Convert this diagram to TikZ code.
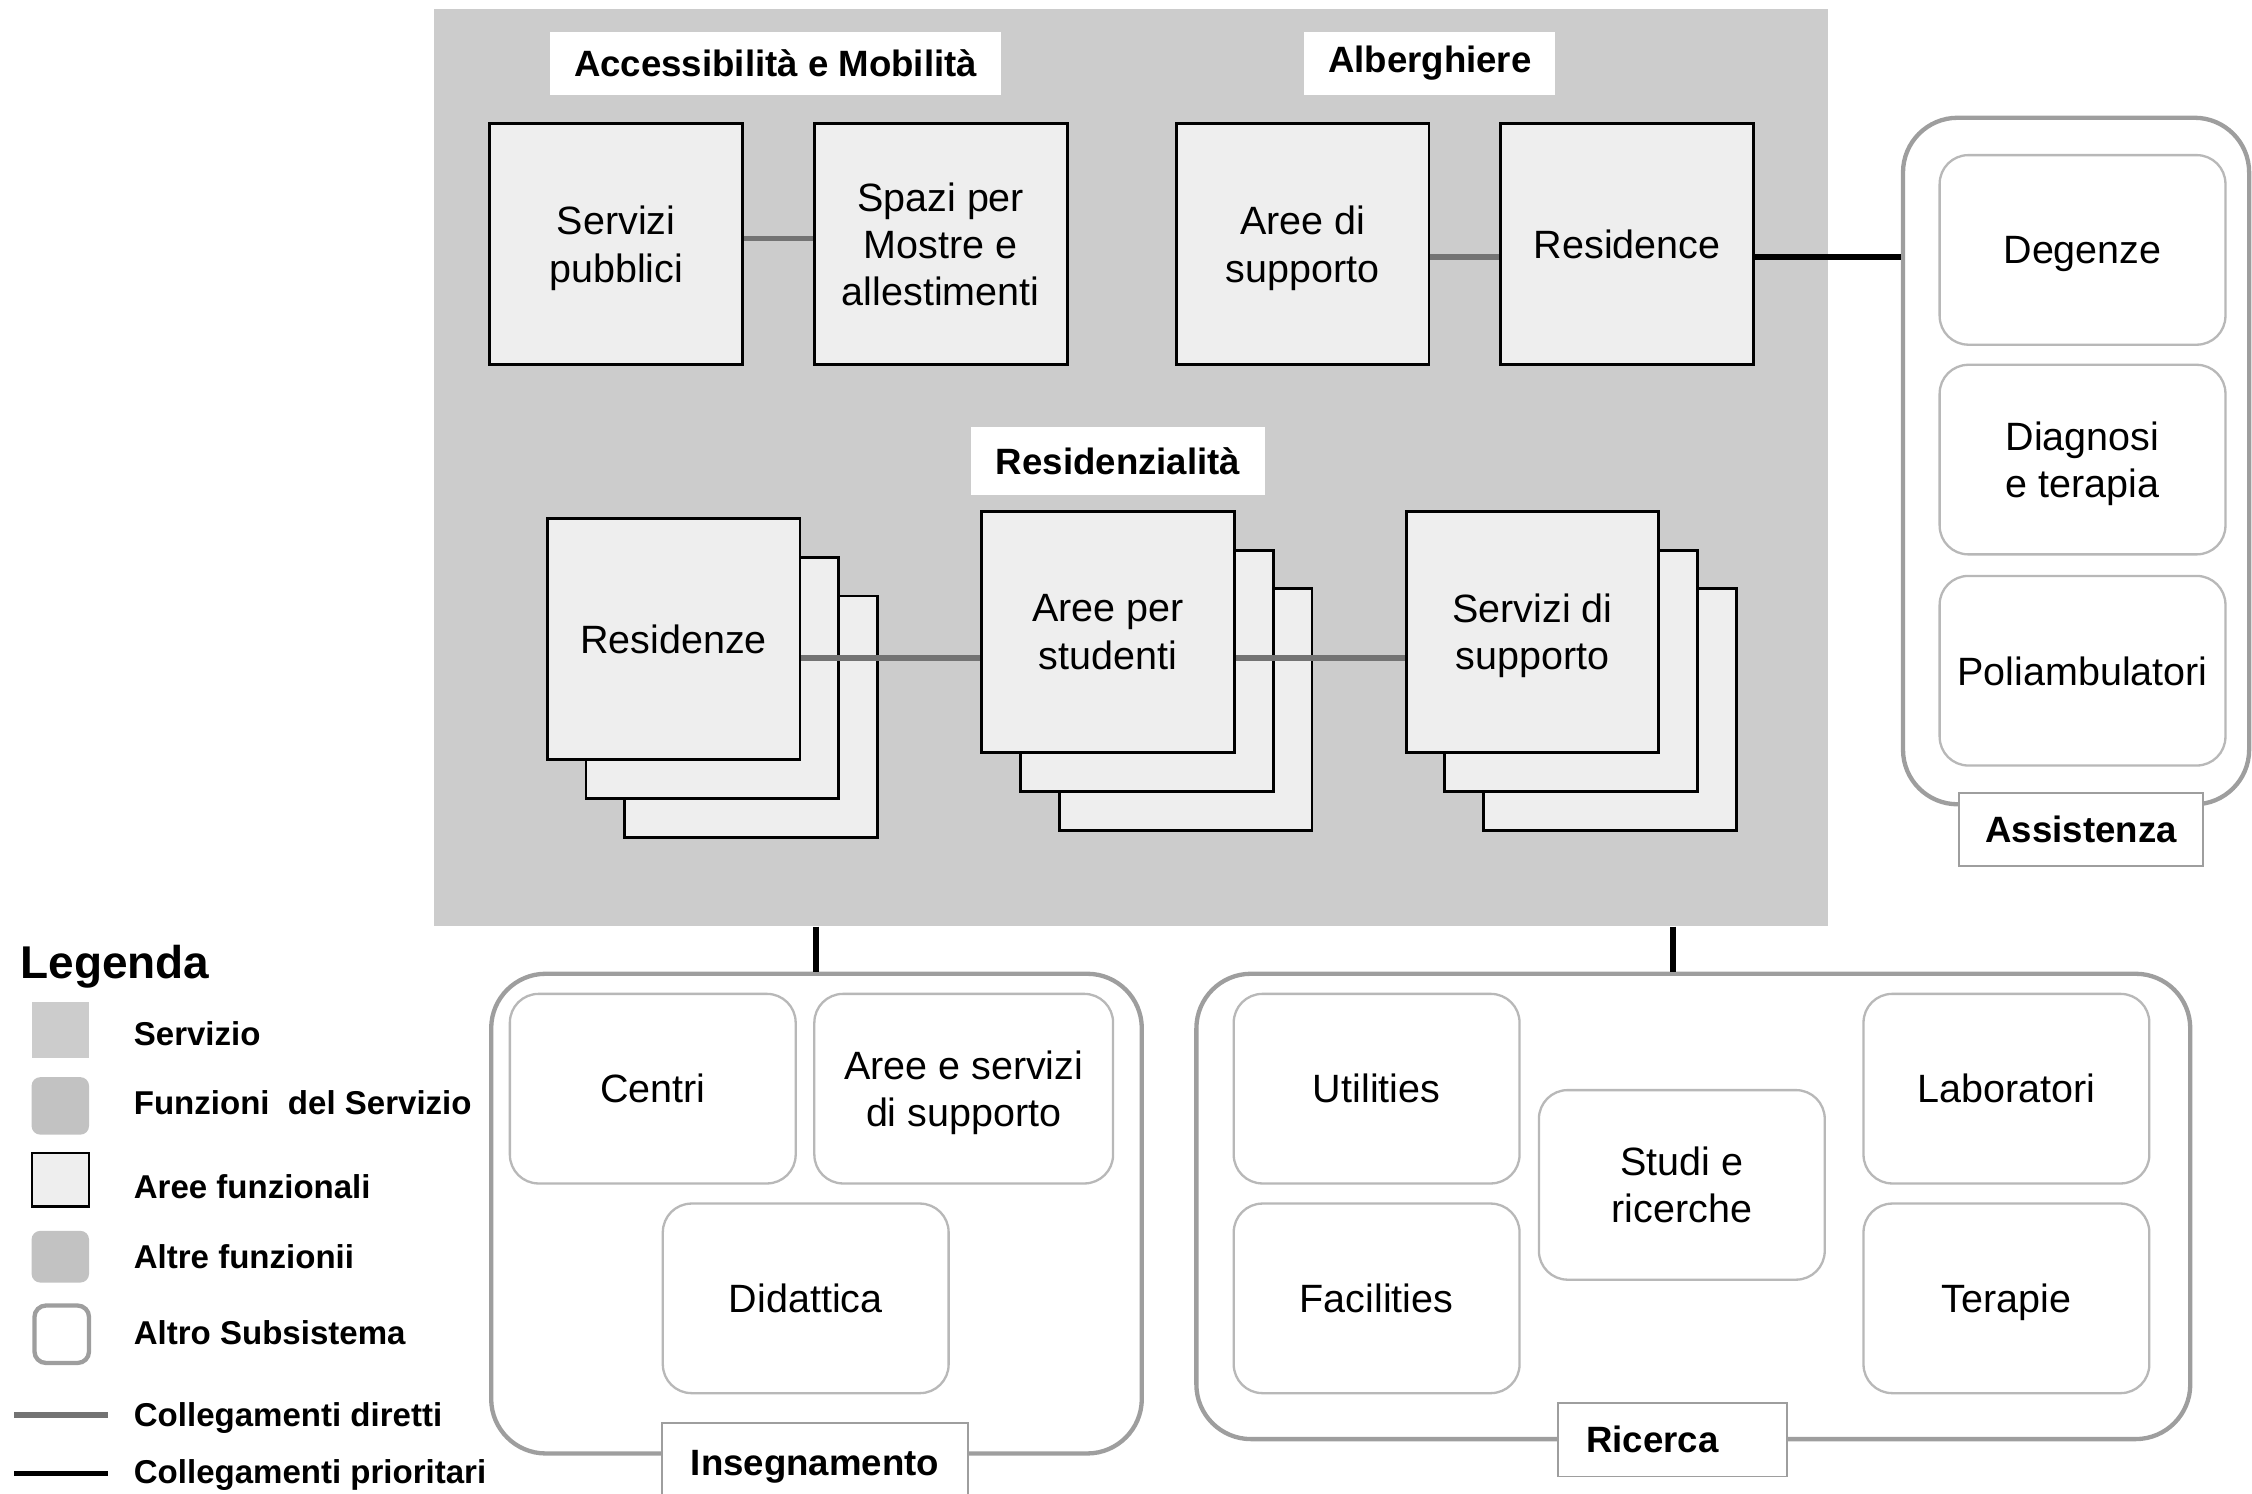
\documentclass[tikz,border=0pt]{standalone}
\usepackage{fontspec}
\setmainfont{Liberation Sans}
\definecolor{svcgray}{gray}{0.80}
\definecolor{areafill}{gray}{0.935}
\definecolor{subgray}{gray}{0.62}
\definecolor{fungray}{gray}{0.72}
\definecolor{linkgray}{gray}{0.45}
\definecolor{lblgray}{gray}{0.62}
\definecolor{funfill}{gray}{0.76}
\newcommand\boxfont{\fontsize{27.5}{33}\selectfont}
\newcommand\headfont{\fontsize{25.5}{30}\selectfont\bfseries}
\newcommand\legfont{\fontsize{23}{27}\selectfont\bfseries}
\begin{document}
\begin{tikzpicture}[x=1pt,y=-1pt,
  service/.style={fill=svcgray, draw=none, inner sep=0pt},
  headbox/.style={fill=white, draw=none, inner sep=0pt, font=\headfont},
  area/.style={draw=black, line width=2pt, fill=areafill, inner sep=0pt, text depth=0pt,
    minimum width=176pt, minimum height=168pt, align=center, font=\boxfont},
  subsys/.style={draw=subgray, line width=3pt, fill=white, rounded corners=38pt, inner sep=0pt},
  func/.style={draw=fungray, line width=1.6pt, fill=white, rounded corners=20pt, inner sep=0pt,
    text depth=0pt, minimum width=199pt, minimum height=132pt, align=center, font=\boxfont},
  sublabel/.style={draw=lblgray, line width=1.2pt, fill=white, inner sep=0pt, font=\headfont},
  direct/.style={draw=linkgray, line width=4pt},
  prior/.style={draw=black, line width=4pt},
  legtext/.style={anchor=west, inner sep=0pt, font=\legfont},
]
\useasboundingbox (0,0) rectangle (1568,1040);
\clip (0,0) rectangle (1568,1040);

% --- service block ---
\node[service, minimum width=971pt, minimum height=639pt] (svc) at (787.5,325.5) {};

\node[headbox, minimum width=314pt, minimum height=44pt] (hAcc) at (540,44) {Accessibilità e Mobilità};
\node[headbox, minimum width=175pt, minimum height=44pt] (hAlb) at (995.5,44) {Alberghiere};
\node[headbox, minimum width=205pt, minimum height=48pt] (hRes) at (778.5,321) {Residenzialità};

% top row of functional areas
\node[area] (spub) at (429,170) {Servizi\\pubblici};
\node[area] (spazi) at (655,170) {Spazi per\\Mostre e\\allestimenti};
\node[area] (asup) at (907,170) {Aree di\\supporto};
\node[area] (resd) at (1133,170) {Residence};

% stacked functional areas
\node[area] (rz3) at (523,499) {};
\node[area] (rz2) at (496,472) {};
\node[area] (rz1) at (469,445) {Residenze};
\node[area] (as3) at (825.5,494) {};
\node[area] (as2) at (798.5,467) {};
\node[area] (as1) at (771.5,440) {Aree per\\studenti};
\node[area] (ss3) at (1121,494) {};
\node[area] (ss2) at (1094,467) {};
\node[area] (ss1) at (1067,440) {Servizi di\\supporto};

% --- Assistenza ---
\node[subsys, minimum width=241pt, minimum height=478pt] (assist) at (1445.5,321) {};
\node[func] (deg) at (1450,174) {Degenze};
\node[func] (diag) at (1450,320) {Diagnosi\\e terapia};
\node[func] (poli) at (1450,467) {Poliambulatori};
\node[sublabel, minimum width=170pt, minimum height=51pt] (lAss) at (1449,577.5) {Assistenza};

% --- Insegnamento ---
\node[subsys, minimum width=453pt, minimum height=334pt] (ins) at (568.5,845) {};
\node[func] (centri) at (454.5,758) {Centri};
\node[func, minimum width=208pt] (aeserv) at (671,758) {Aree e servizi\\di supporto};
\node[func] (did) at (561,904) {Didattica};
\node[sublabel, minimum width=213pt, minimum height=60pt] (lIns) at (567.5,1021) {Insegnamento};

% --- Ricerca ---
\node[subsys, minimum width=692pt, minimum height=324pt] (ric) at (1179,840) {};
\node[func] (util) at (958.5,758) {Utilities};
\node[func] (facil) at (958.5,904) {Facilities};
\node[func] (studi) at (1171,825) {Studi e\\ricerche};
\node[func] (lab) at (1397,758) {Laboratori};
\node[func] (ter) at (1397,904) {Terapie};
\node[sublabel, minimum width=159pt, minimum height=51pt] (lRic) at (1164.5,1002.5) {Ricerca\hspace*{28pt}};

% --- connectors ---
\coordinate (ytop) at (0,166);
\coordinate (yalb) at (0,179);
\coordinate (ymid) at (0,458);
\coordinate (xins) at (568,0);
\coordinate (xric) at (1165,0);
\draw[direct] (spub.east |- ytop) -- (spazi.west |- ytop);
\draw[direct] (asup.east |- yalb) -- (resd.west |- yalb);
\draw[direct] (rz1.east |- ymid) -- (as1.west |- ymid);
\draw[direct] (as1.east |- ymid) -- (ss1.west |- ymid);
\draw[prior] (resd.east |- yalb) -- (assist.west |- yalb);
\draw[prior] (svc.south -| xins) -- (ins.north -| xins);
\draw[prior] (svc.south -| xric) -- (ric.north -| xric);

% --- legend ---
\node[anchor=west, inner sep=0pt, font=\fontsize{32}{36}\selectfont\bfseries] (leg) at (14,673) {Legenda};
\node[fill=svcgray, inner sep=0pt, minimum width=40pt, minimum height=39pt] (sw1) at (42,717) {};
\node[fill=funfill, rounded corners=6pt, inner sep=0pt, minimum width=40pt, minimum height=40pt] (sw2) at (42,770) {};
\node[fill=areafill, draw=black, line width=1.5pt, inner sep=0pt, minimum width=40pt, minimum height=37pt] (sw3) at (42,821.5) {};
\node[fill=funfill, rounded corners=6pt, inner sep=0pt, minimum width=40pt, minimum height=36pt] (sw4) at (42,875) {};
\node[fill=white, draw=subgray, line width=3pt, rounded corners=8pt, inner sep=0pt, minimum width=38pt, minimum height=40pt] (sw5) at (43,929) {};
\coordinate (ld1) at (10,985);
\coordinate (ld2) at (75,985);
\coordinate (lp1) at (10,1026);
\coordinate (lp2) at (75,1026);
\draw[direct] (ld1) -- (ld2);
\draw[prior] (lp1) -- (lp2);
\node[legtext] (t1) at (93,720) {Servizio};
\node[legtext] (t2) at (93,768) {Funzioni\ \ del Servizio};
\node[legtext] (t3) at (93,826) {Aree funzionali};
\node[legtext] (t4) at (93,875) {Altre funzionii};
\node[legtext] (t5) at (93,928) {Altro Subsistema};
\node[legtext] (t6) at (93,987) {Collegamenti diretti};
\node[legtext] (t7) at (93,1027) {Collegamenti prioritari};
\end{tikzpicture}
\end{document}
